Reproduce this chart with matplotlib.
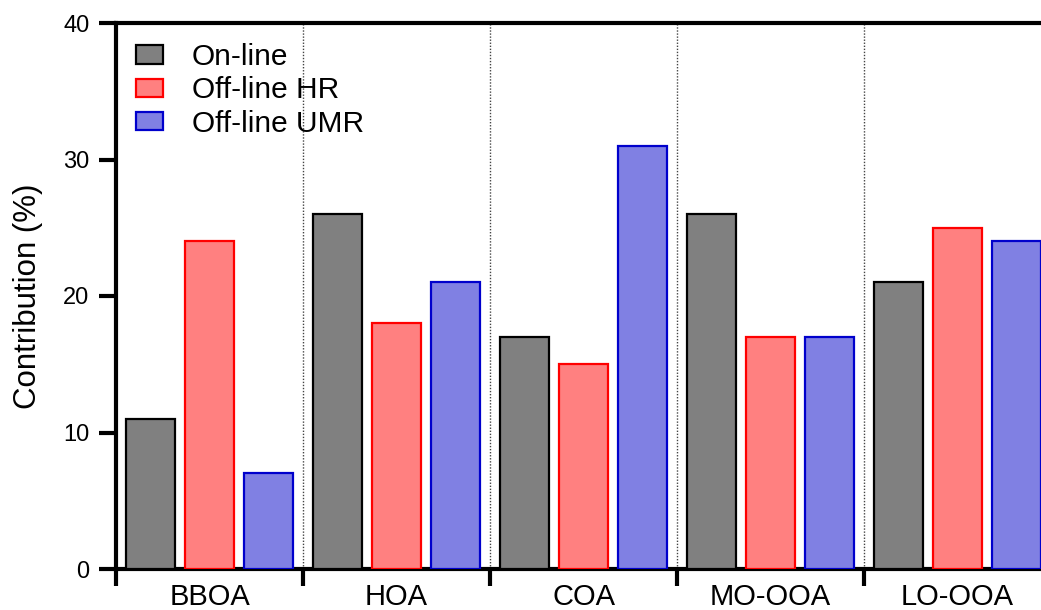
import matplotlib.pyplot as plt
import numpy as np

plt.rcParams['font.family'] = ['Liberation Sans', 'DejaVu Sans']

categories = ['BBOA', 'HOA', 'COA', 'MO-OOA', 'LO-OOA']
online = [11, 26, 17, 26, 21]
offline_hr = [24, 18, 15, 17, 25]
offline_umr = [7, 21, 31, 17, 24]

series_names = ['On-line', 'Off-line HR', 'Off-line UMR']
fills = ['#808080', '#FF8080', '#8080E3']
edges = ['#000000', '#FF0000', '#0000CC']

fig = plt.figure(figsize=(10.41, 6.10), dpi=100)
ax = fig.add_axes([116 / 1041, 41 / 610, 935 / 1041, 546 / 610])

x = np.arange(len(categories))
w = 0.262
off = 0.316
for i, vals in enumerate([online, offline_hr, offline_umr]):
    ax.bar(x + (i - 1) * off, vals, width=w, color=fills[i], edgecolor=edges[i],
           linewidth=1.6, label=series_names[i], zorder=3)

# dotted separators between groups
for b in x[:-1] + 0.5:
    ax.axvline(b, color='#444444', linestyle=(0, (1, 1.2)), linewidth=1.0, zorder=1)

ax.set_xlim(-0.5, 4.5)
ax.set_ylim(0, 40)
ax.set_yticks([0, 10, 20, 30, 40])
ax.set_xticks(x)
ax.set_xticklabels(categories)
ax.set_xticks(np.arange(-0.5, 5.0, 1.0), minor=True)
ax.tick_params(axis='x', which='major', length=0, pad=10, labelsize=21)
ax.tick_params(axis='x', which='minor', length=12, width=3, direction='out')
ax.tick_params(axis='y', length=12, width=3, direction='out', labelsize=17, pad=7)

for s in ['left', 'bottom', 'top', 'right']:
    ax.spines[s].set_linewidth(3)

ax.set_ylabel('Contribution (%)', fontsize=22.5)
ax.yaxis.set_label_coords(-0.078, 0.5)

ax.legend(loc='upper left', bbox_to_anchor=(20 / 935, 1 - 20 / 546), frameon=False,
          fontsize=21.5, handlelength=0.9, handleheight=0.57, handletextpad=0.97,
          labelspacing=0.18, borderaxespad=0, borderpad=0)

fig.savefig('out.png', dpi=100)
